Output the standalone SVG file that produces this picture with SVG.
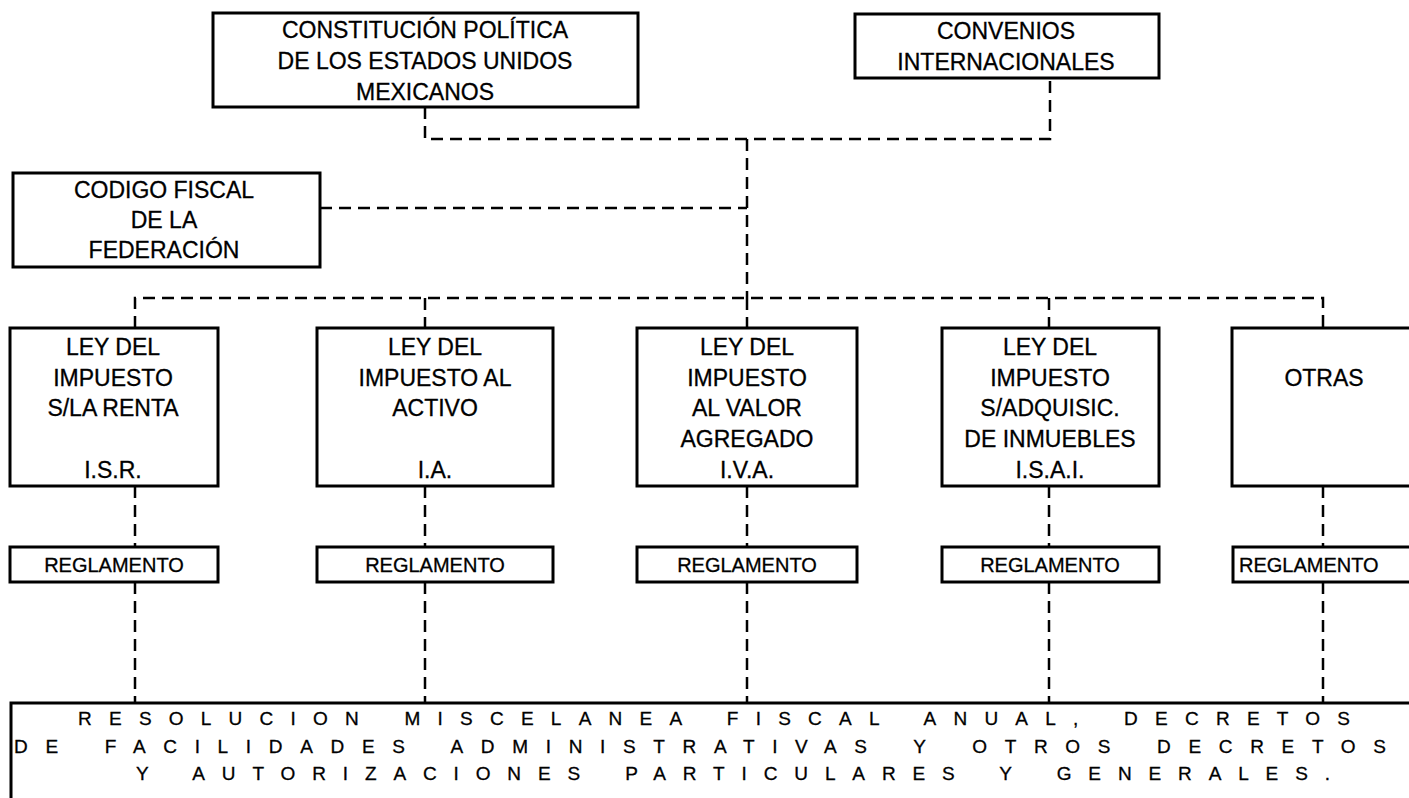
<svg xmlns="http://www.w3.org/2000/svg" width="1409" height="798" viewBox="0 0 1409 798">
<style>
.box{fill:#fff;stroke:#000;stroke-width:3}
.t{font-family:"Liberation Sans",Arial,sans-serif;font-size:23px;fill:#000;stroke:#000;stroke-width:0.3;text-anchor:middle}
.r{font-family:"Liberation Sans",Arial,sans-serif;font-size:20px;fill:#000;stroke:#000;stroke-width:0.3;text-anchor:middle}
.b{font-family:"Liberation Sans",Arial,sans-serif;font-size:19px;fill:#000;stroke:#000;stroke-width:0.3;word-spacing:6px}
.c{fill:none;stroke:#000;stroke-width:2.5;stroke-dasharray:12 7}
</style>
<rect width="1409" height="798" fill="#fff"/>
<g id="connectors">
<path class="c" d="M425,107 V139 H1050 V78"/>
<path class="c" d="M747,139 V298"/>
<path class="c" d="M320,208 H747"/>
<path class="c" d="M135,328 V298 H1323 V330"/>
<path class="c" d="M425,298 V328 M747,298 V328 M1049,298 V328"/>
<path class="c" d="M135,486 V547 M425,486 V547 M747,486 V547 M1049,486 V547 M1323,486 V547"/>
<path class="c" d="M135,582 V703 M425,582 V703 M747,582 V703 M1049,582 V703 M1323,582 V703"/>
</g>
<g id="constitucion">
<rect class="box" x="213" y="13" width="425" height="94"/>
<text class="t" x="425" y="38">CONSTITUCIÓN POLÍTICA</text>
<text class="t" x="425" y="69">DE LOS ESTADOS UNIDOS</text>
<text class="t" x="425" y="100">MEXICANOS</text>
</g>
<g id="convenios">
<rect class="box" x="855" y="14" width="304" height="64"/>
<text class="t" x="1006" y="39">CONVENIOS</text>
<text class="t" x="1006" y="70">INTERNACIONALES</text>
</g>
<g id="codigo">
<rect class="box" x="13" y="173" width="307" height="94"/>
<text class="t" x="164" y="198">CODIGO FISCAL</text>
<text class="t" x="164" y="228">DE LA</text>
<text class="t" x="164" y="258">FEDERACIÓN</text>
</g>
<g id="isr">
<rect class="box" x="10" y="328" width="208" height="158"/>
<text class="t" x="113" y="355">LEY DEL</text>
<text class="t" x="113" y="386">IMPUESTO</text>
<text class="t" x="113" y="416">S/LA RENTA</text>
<text class="t" x="113" y="478">I.S.R.</text>
</g>
<g id="ia">
<rect class="box" x="317" y="328" width="236" height="158"/>
<text class="t" x="435" y="355">LEY DEL</text>
<text class="t" x="435" y="386">IMPUESTO AL</text>
<text class="t" x="435" y="416">ACTIVO</text>
<text class="t" x="435" y="478">I.A.</text>
</g>
<g id="iva">
<rect class="box" x="637" y="328" width="220" height="158"/>
<text class="t" x="747" y="355">LEY DEL</text>
<text class="t" x="747" y="386">IMPUESTO</text>
<text class="t" x="747" y="416">AL VALOR</text>
<text class="t" x="747" y="447">AGREGADO</text>
<text class="t" x="747" y="478">I.V.A.</text>
</g>
<g id="isai">
<rect class="box" x="942" y="328" width="217" height="158"/>
<text class="t" x="1050" y="355">LEY DEL</text>
<text class="t" x="1050" y="386">IMPUESTO</text>
<text class="t" x="1050" y="416">S/ADQUISIC.</text>
<text class="t" x="1050" y="447">DE INMUEBLES</text>
<text class="t" x="1050" y="478">I.S.A.I.</text>
</g>
<g id="otras">
<rect class="box" x="1232" y="328" width="190" height="158"/>
<text class="t" x="1324" y="386">OTRAS</text>
</g>
<g id="reg1">
<rect class="box" x="10" y="547" width="208" height="35"/>
<text class="r" x="114" y="572">REGLAMENTO</text>
</g>
<g id="reg2">
<rect class="box" x="317" y="547" width="236" height="35"/>
<text class="r" x="435" y="572">REGLAMENTO</text>
</g>
<g id="reg3">
<rect class="box" x="637" y="547" width="220" height="35"/>
<text class="r" x="747" y="572">REGLAMENTO</text>
</g>
<g id="reg4">
<rect class="box" x="942" y="547" width="217" height="35"/>
<text class="r" x="1050" y="572">REGLAMENTO</text>
</g>
<g id="reg5">
<rect class="box" x="1233" y="547" width="190" height="35"/>
<text class="r" x="1239" y="572" style="text-anchor:start">REGLAMENTO</text>
</g>
<g id="resolucion">
<rect class="box" x="11" y="703" width="1412" height="100"/>
<text class="b" x="78" y="725" textLength="1272" lengthAdjust="spacing">RESOLUCION MISCELANEA FISCAL ANUAL, DECRETOS</text>
<text class="b" x="14" y="753" textLength="1372" lengthAdjust="spacing">DE FACILIDADES ADMINISTRATIVAS Y OTROS DECRETOS</text>
<text class="b" x="136" y="780" textLength="1194" lengthAdjust="spacing">Y AUTORIZACIONES PARTICULARES Y GENERALES.</text>
</g>
</svg>
